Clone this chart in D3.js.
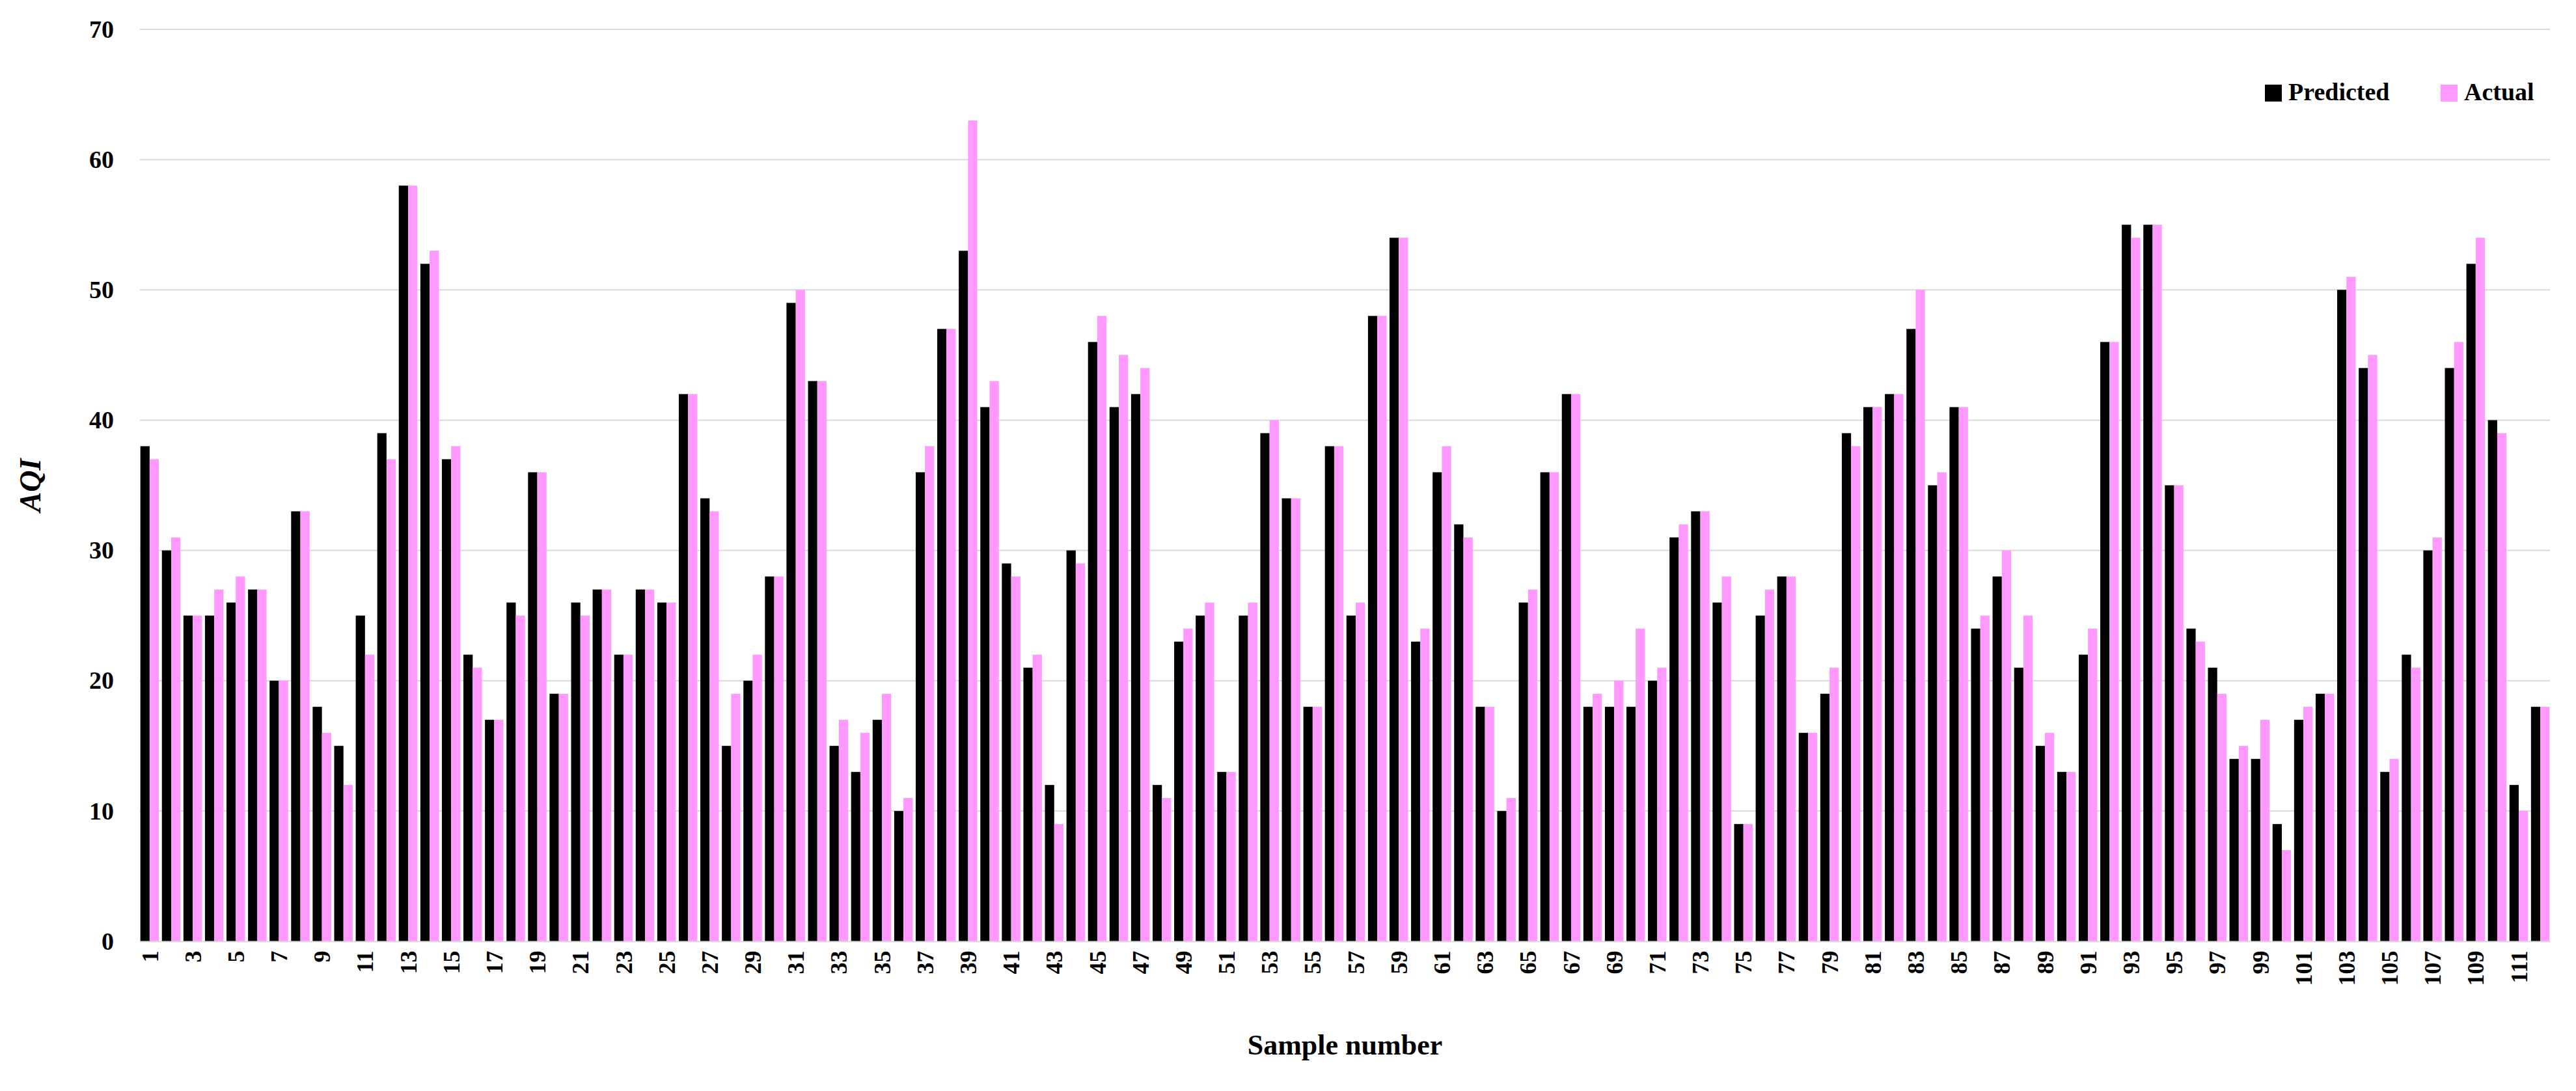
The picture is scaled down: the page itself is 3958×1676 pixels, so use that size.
<!DOCTYPE html>
<html><head><meta charset="utf-8">
<script src="https://cdn.jsdelivr.net/npm/d3@7"></script>
<style>body{margin:0;background:#fff}text{font-family:"Liberation Serif","DejaVu Serif",serif}</style>
</head><body><svg id="chart"></svg>
<script>
// values
const predicted = [38,30,25,25,26,27,20,33,18,15,25,39,58,52,37,22,17,26,36,19,26,27,22,27,26,42,34,15,20,28,49,43,15,13,17,10,36,47,53,41,29,21,12,30,46,41,42,12,23,25,13,25,39,34,18,38,25,48,54,23,36,32,18,10,26,36,42,18,18,18,20,31,33,26,9,25,28,16,19,39,41,42,47,35,41,24,28,21,15,13,22,46,55,55,35,24,21,14,14,9,17,19,50,44,13,22,30,44,52,40,12,18];
const actual = [37,31,25,27,28,27,20,33,16,12,22,37,58,53,38,21,17,25,36,19,25,27,22,27,26,42,33,19,22,28,50,43,17,16,19,11,38,47,63,43,28,22,9,29,48,45,44,11,24,26,13,26,40,34,18,38,26,48,54,24,38,31,18,11,27,36,42,19,20,24,21,32,33,28,9,27,28,16,21,38,41,42,50,36,41,25,30,25,16,13,24,46,54,55,35,23,19,15,17,7,18,19,51,45,14,21,31,46,54,39,10,18];
const samples = predicted.map((d, i) => i + 1);
const yTicks = [0, 10, 20, 30, 40, 50, 60, 70];

const W = 3958, H = 1676;
const margin = { top: 45, right: 40, bottom: 230, left: 215 };
const width = W - margin.left - margin.right;
const height = H - margin.top - margin.bottom;

const svg = d3.select('#chart').attr('width', W).attr('height', H);
const g = svg.append('g').attr('transform', `translate(${margin.left},${margin.top})`);

const x = d3.scaleBand().domain(samples).range([0, width]).paddingInner(0.14).paddingOuter(0.02);
const xs = d3.scaleBand().domain(['p', 'a']).range([0, x.bandwidth()]);
const y = d3.scaleLinear().domain([0, 70]).range([height, 0]);

// 网格线
g.append('g').selectAll('line').data(yTicks.slice(1)).join('line')
  .attr('x1', 0).attr('x2', width)
  .attr('y1', d => y(d)).attr('y2', d => y(d))
  .attr('stroke', '#d9d9d9').attr('stroke-width', 2);

const series = [{ key: 'p', vals: predicted, color: '#000000' }, { key: 'a', vals: actual, color: '#ff99ff' }];
series.forEach(s => {
  g.append('g').selectAll('rect').data(s.vals).join('rect')
    .attr('x', (d, i) => x(i + 1) + xs(s.key))
    .attr('width', xs.bandwidth())
    .attr('y', d => y(d))
    .attr('height', d => height - y(d))
    .attr('fill', s.color);
});

// y 轴
const yAxis = g.append('g').call(d3.axisLeft(y).tickValues(yTicks).tickSize(0).tickPadding(40));
yAxis.select('.domain').remove();
yAxis.selectAll('text').attr('font-size', 38).attr('font-weight', 'bold').attr('fill', '#000');

// x 轴
const xAxis = g.append('g').attr('transform', `translate(0,${height})`)
  .call(d3.axisBottom(x).tickValues(samples.filter(d => d % 2 === 1)).tickSize(0));
xAxis.select('.domain').attr('stroke', '#d9d9d9').attr('stroke-width', 2);
xAxis.selectAll('text')
  .attr('font-size', 36).attr('font-weight', 'bold').attr('fill', '#000')
  .attr('transform', 'rotate(-90)').attr('text-anchor', 'end')
  .attr('dx', '-0.4em').attr('dy', '0.35em').attr('x', 0).attr('y', 0);

// 轴标题
svg.append('text').attr('x', margin.left + width / 2).attr('y', 1620)
  .attr('text-anchor', 'middle').attr('font-size', 44).attr('font-weight', 'bold').text('Sample number');
svg.append('text').attr('transform', `translate(62,${margin.top + height / 2}) rotate(-90)`)
  .attr('text-anchor', 'middle').attr('font-size', 46).attr('font-weight', 'bold').attr('font-style', 'italic').text('AQI');

// 图例
const legend = svg.append('g').attr('transform', 'translate(3700,148)');
[{ label: 'Predicted', color: '#000' }, { label: 'Actual', color: '#ff99ff' }].forEach((d, i) => {
  const lg = legend.append('g').attr('transform', `translate(${i * 270},0)`);
  lg.append('rect').attr('x', 0).attr('y', -18).attr('width', 26).attr('height', 26).attr('fill', d.color);
  lg.append('text').attr('x', 36).attr('y', 6).attr('font-size', 38).attr('font-weight', 'bold').text(d.label);
});
legend.attr('transform', 'translate(3480,148)');
</script></body></html>
